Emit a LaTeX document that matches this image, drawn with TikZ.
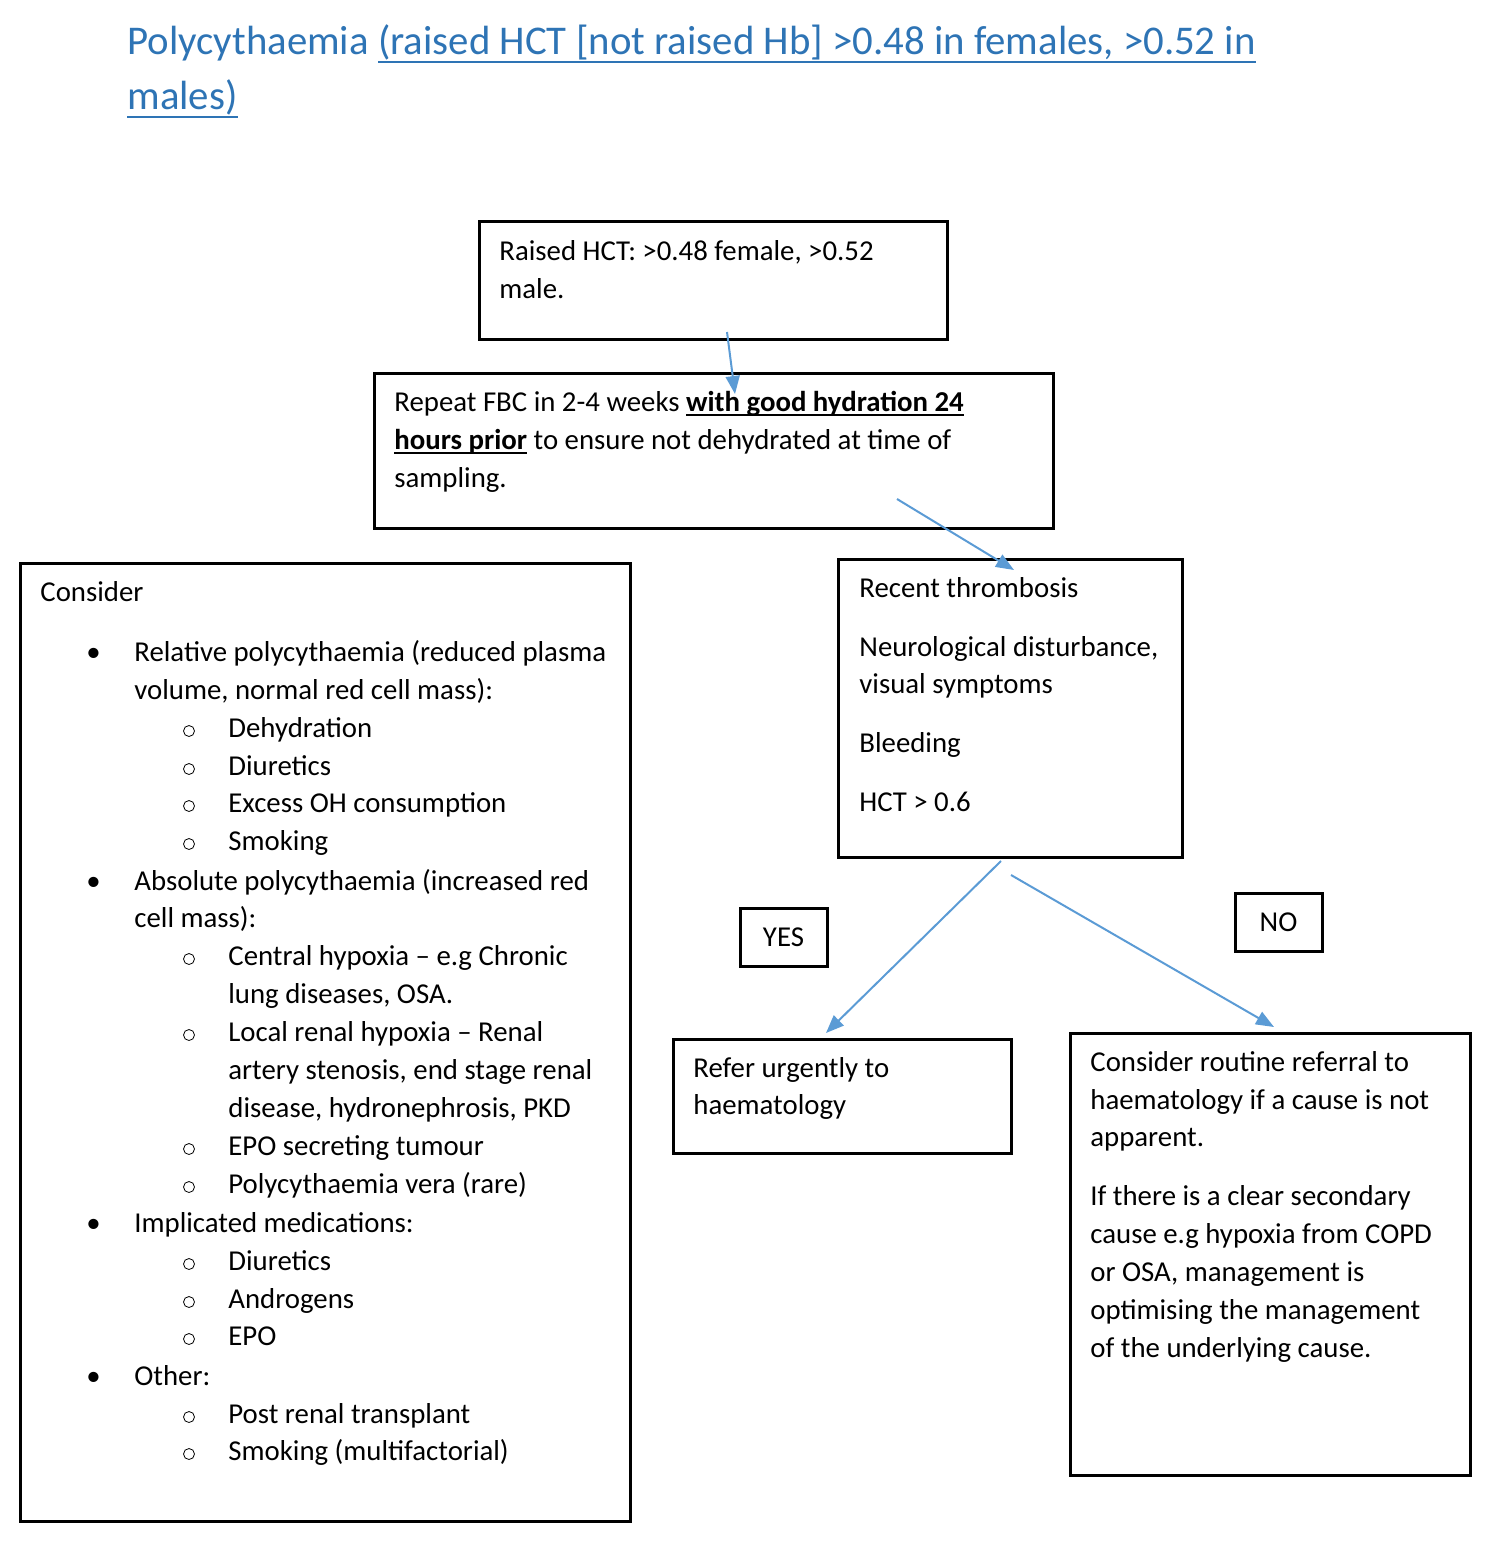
\documentclass[tikz,border=0pt]{standalone}
\usepackage{fontspec}
\setmainfont{Carlito}
\usepackage{xcolor}
\definecolor{titleBlue}{HTML}{2E74B5}
\definecolor{arrowBlue}{HTML}{5B9BD5}
\usetikzlibrary{arrows.meta}
\newcommand{\ulbox}[2][2.5pt]{\setbox0\hbox{#2}\rlap{\rule[-#1]{\wd0}{1.1pt}}\box0\relax}

\tikzset{
  box/.style={draw, line width=1.5pt, inner sep=0pt},
  txt/.style={anchor=base west, inner sep=0pt, font=\fontsize{14.4}{19}\selectfont},
  ttl/.style={anchor=base west, inner sep=0pt, text=titleBlue, font=\fontsize{20.4}{27}\selectfont},
  ring/.style={circle, draw, line width=0.4pt, minimum size=5.5pt, inner sep=0pt},
  flow/.style={draw=arrowBlue, line width=1pt, -{Triangle[length=9pt,width=7pt]}},
}

\begin{document}
\begin{tikzpicture}[x=0.5pt,y=-0.5pt]
  \useasboundingbox (0,0) rectangle (1501,1552);

  % title
  \node[ttl] (title1) at (127,55) {Polycythaemia \ulbox[4pt]{(raised HCT [not raised Hb] >0.48 in females, >0.52 in}};
  \node[ttl] (title2) at (127,110) {\ulbox[4pt]{males)}};

  % boxes
  \node[box, minimum width=234pt, minimum height=59pt] (raised) at (713,280) {};
  \node[box, minimum width=339.5pt, minimum height=77.5pt] (repeat) at (713.5,450.5) {};
  \node[box, minimum width=305pt, minimum height=479pt] (consider) at (325,1042) {};
  \node[box, minimum width=172pt, minimum height=149pt] (recent) at (1010,708) {};
  \node[box, minimum width=43.5pt, minimum height=29pt, font=\fontsize{14.4}{19}\selectfont] (yes) at (783.5,937) {YES};
  \node[box, minimum width=43.5pt, minimum height=29pt, font=\fontsize{14.4}{19}\selectfont] (no) at (1278.5,922) {NO};
  \node[box, minimum width=169pt, minimum height=57pt] (refer) at (842,1096) {};
  \node[box, minimum width=200pt, minimum height=221pt] (routine) at (1270,1254) {};

  % raised HCT
  \node[txt] (raisedL1) at (499,260) {Raised HCT: >0.48 female, >0.52};
  \node[txt] (raisedL2) at (499,298) {male.};

  % repeat FBC
  \node[txt] (repeatL1) at (394,411) {Repeat FBC in 2-4 weeks \ulbox{\textbf{with good hydration 24}}};
  \node[txt] (repeatL2) at (394,449) {\ulbox{\textbf{hours prior}} to ensure not dehydrated at time of};
  \node[txt] (repeatL3) at (394,487) {sampling.};

  % consider list
  \node[txt] (consL0) at (40,601) {Consider};
  \node[txt] (bulA) at (86,661) {•};
  \node[txt] (consA1) at (134,661) {Relative polycythaemia (reduced plasma};
  \node[txt] (consA2) at (134,699) {volume, normal red cell mass):};
  \node[ring] (subA1) at (189,731) {};
  \node[txt] (consA3) at (228,737) {Dehydration};
  \node[ring] (subA2) at (189,769) {};
  \node[txt] (consA4) at (228,775) {Diuretics};
  \node[ring] (subA3) at (189,806) {};
  \node[txt] (consA5) at (228,812) {Excess OH consumption};
  \node[ring] (subA4) at (189,844) {};
  \node[txt] (consA6) at (228,850) {Smoking};
  \node[txt] (bulB) at (86,890) {•};
  \node[txt] (consB1) at (134,890) {Absolute polycythaemia (increased red};
  \node[txt] (consB2) at (134,927) {cell mass):};
  \node[ring] (subB1) at (189,959) {};
  \node[txt] (consB3) at (228,965) {Central hypoxia – e.g Chronic};
  \node[txt] (consB4) at (228,1003) {lung diseases, OSA.};
  \node[ring] (subB2) at (189,1035) {};
  \node[txt] (consB5) at (228,1041) {Local renal hypoxia – Renal};
  \node[txt] (consB6) at (228,1079) {artery stenosis, end stage renal};
  \node[txt] (consB7) at (228,1117) {disease, hydronephrosis, PKD};
  \node[ring] (subB3) at (189,1149) {};
  \node[txt] (consB8) at (228,1155) {EPO secreting tumour};
  \node[ring] (subB4) at (189,1187) {};
  \node[txt] (consB9) at (228,1193) {Polycythaemia vera (rare)};
  \node[txt] (bulC) at (86,1232) {•};
  \node[txt] (consC1) at (134,1232) {Implicated medications:};
  \node[ring] (subC1) at (189,1264) {};
  \node[txt] (consC2) at (228,1270) {Diuretics};
  \node[ring] (subC2) at (189,1302) {};
  \node[txt] (consC3) at (228,1308) {Androgens};
  \node[ring] (subC3) at (189,1339) {};
  \node[txt] (consC4) at (228,1345) {EPO};
  \node[txt] (bulD) at (86,1385) {•};
  \node[txt] (consD1) at (134,1385) {Other:};
  \node[ring] (subD1) at (189,1417) {};
  \node[txt] (consD2) at (228,1423) {Post renal transplant};
  \node[ring] (subD2) at (189,1454) {};
  \node[txt] (consD3) at (228,1460) {Smoking (multifactorial)};

  % red flags
  \node[txt] (recentL1) at (859,597) {Recent thrombosis};
  \node[txt] (recentL2) at (859,656) {Neurological disturbance,};
  \node[txt] (recentL3) at (859,693) {visual symptoms};
  \node[txt] (recentL4) at (859,752) {Bleeding};
  \node[txt] (recentL5) at (859,811) {HCT > 0.6};

  % outcomes
  \node[txt] (referL1) at (693,1077) {Refer urgently to};
  \node[txt] (referL2) at (693,1114) {haematology};
  \node[txt] (routineL1) at (1090,1071) {Consider routine referral to};
  \node[txt] (routineL2) at (1090,1109) {haematology if a cause is not};
  \node[txt] (routineL3) at (1090,1146) {apparent.};
  \node[txt] (routineL4) at (1090,1205) {If there is a clear secondary};
  \node[txt] (routineL5) at (1090,1243) {cause e.g hypoxia from COPD};
  \node[txt] (routineL6) at (1090,1281) {or OSA, management is};
  \node[txt] (routineL7) at (1090,1319) {optimising the management};
  \node[txt] (routineL8) at (1090,1357) {of the underlying cause.};

  % arrows
  \coordinate (a1s) at (727,332);
  \coordinate (a1e) at (735,394);
  \coordinate (a2s) at (897,499);
  \coordinate (a2e) at (1014,570);
  \coordinate (a3s) at (1001,861);
  \coordinate (a3e) at (826,1033);
  \coordinate (a4s) at (1011,875);
  \coordinate (a4e) at (1274,1027);
  \draw[flow] (a1s) -- (a1e);
  \draw[flow] (a2s) -- (a2e);
  \draw[flow] (a3s) -- (a3e);
  \draw[flow] (a4s) -- (a4e);
\end{tikzpicture}
\end{document}
